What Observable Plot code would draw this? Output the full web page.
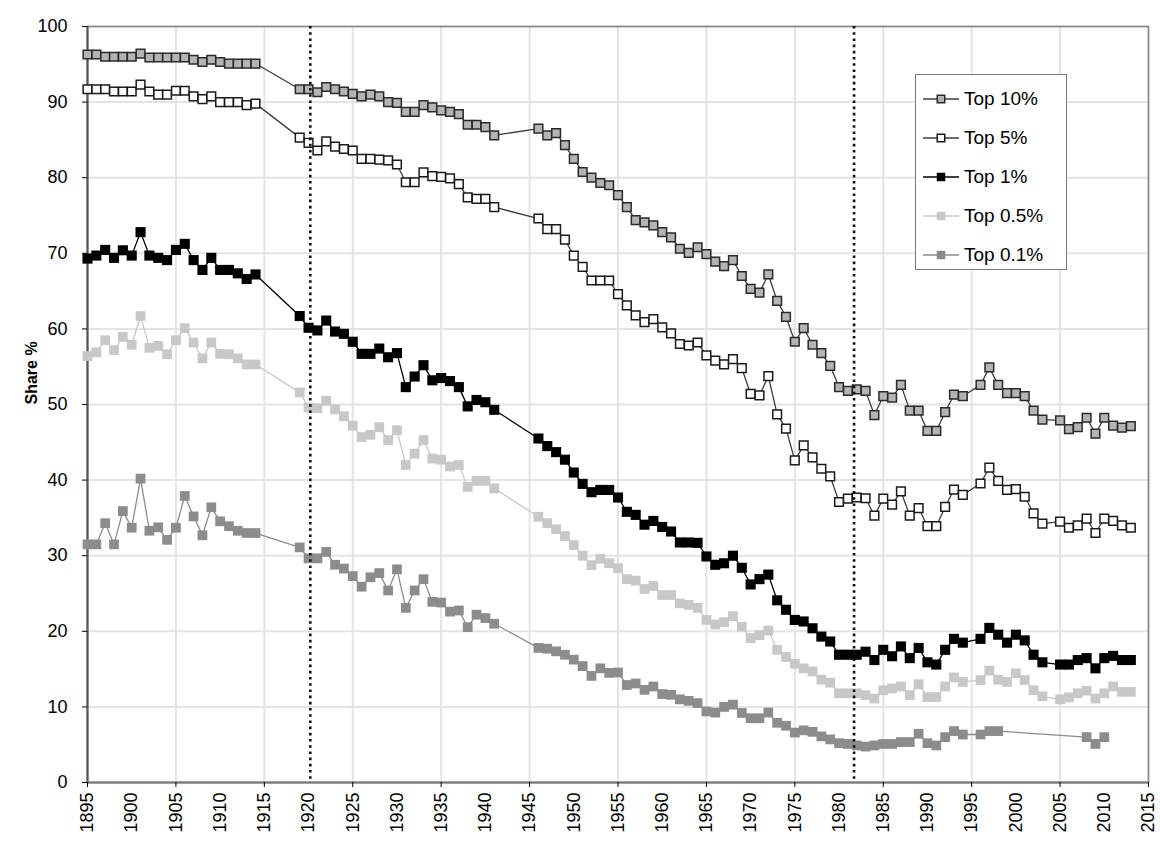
<!DOCTYPE html>
<html><head><meta charset="utf-8">
<script src="https://cdn.jsdelivr.net/npm/d3@7"></script>
<script src="https://cdn.jsdelivr.net/npm/@observablehq/plot@0.6"></script>
<style>
html,body{margin:0;padding:0;background:#fff;}
#wrap{position:relative;width:1160px;height:846px;font-family:"Liberation Sans",Arial,sans-serif;}
#legend{position:absolute;left:915px;top:74px;width:152px;height:196px;border:1.5px solid #7a7a7a;background:#fff;box-sizing:border-box;}
.row{position:absolute;left:6px;height:26px;display:flex;align-items:center;}
.row span{font-size:19px;color:#000;margin-left:4px;white-space:nowrap;}
</style></head><body><div id="wrap"><div id="chart"></div><div id="legend"></div></div>
<script>
// ---- data ----
const years = [
  1895,1896,1897,1898,1899,1900,1901,1902,1903,1904,1905,1906,1907,1908,1909,1910,1911,1912,1913,1914,
  1919,1920,1921,1922,1923,1924,1925,1926,1927,1928,1929,1930,1931,1932,1933,1934,1935,1936,1937,1938,1939,1940,1941,
  1946,1947,1948,1949,1950,1951,1952,1953,1954,1955,1956,1957,1958,1959,1960,1961,1962,1963,1964,1965,
  1966,1967,1968,1969,1970,1971,1972,1973,1974,1975,1976,1977,1978,1979,1980,1981,1982,1983,1984,1985,
  1986,1987,1988,1989,1990,1991,1992,1993,1994,
  1996,1997,1998,1999,2000,2001,2002,2003,
  2005,2006,2007,2008,2009,2010,2011,2012,2013
];
const years01 = [
  1895,1896,1897,1898,1899,1900,1901,1902,1903,1904,1905,1906,1907,1908,1909,1910,1911,1912,1913,1914,
  1919,1920,1921,1922,1923,1924,1925,1926,1927,1928,1929,1930,1931,1932,1933,1934,1935,1936,1937,1938,1939,1940,1941,
  1946,1947,1948,1949,1950,1951,1952,1953,1954,1955,1956,1957,1958,1959,1960,1961,1962,1963,1964,1965,
  1966,1967,1968,1969,1970,1971,1972,1973,1974,1975,1976,1977,1978,1979,1980,1981,1982,1983,1984,1985,
  1986,1987,1988,1989,1990,1991,1992,1993,1994,
  1996,1997,1998,
  2008,2009,2010
];
const top10 = [
  96.3,96.3,96.0,96.0,96.0,96.0,96.4,95.9,95.9,95.9,95.9,95.9,95.6,95.3,95.6,95.3,95.1,95.1,95.1,95.1,
  91.7,91.7,91.3,92.0,91.7,91.4,91.1,90.75,91.0,90.75,90.0,89.9,88.7,88.7,89.6,89.3,88.9,88.7,88.4,87.0,87.0,86.7,85.6,
  86.5,85.6,85.9,84.3,82.5,80.75,80.0,79.3,79.0,77.7,76.1,74.4,74.1,73.7,72.8,72.1,70.6,70.05,70.8,69.9,
  68.9,68.3,69.1,67.0,65.3,64.8,67.2,63.7,61.6,58.3,60.1,57.9,56.8,55.1,52.3,51.8,52.0,51.8,48.6,51.1,
  50.9,52.6,49.2,49.2,46.5,46.5,49.0,51.3,51.1,
  52.6,54.9,52.6,51.5,51.5,51.1,49.2,48.0,
  47.9,46.75,47.0,48.25,46.15,48.25,47.2,46.95,47.15
];
const top5 = [
  91.7,91.7,91.7,91.4,91.4,91.4,92.3,91.4,91.0,91.0,91.5,91.5,90.75,90.4,90.75,90.0,90.0,90.0,89.6,89.8,
  85.3,84.6,83.6,84.8,84.1,83.8,83.6,82.5,82.5,82.4,82.3,81.75,79.4,79.4,80.7,80.2,80.1,79.9,79.15,77.4,77.2,77.2,76.1,
  74.6,73.2,73.2,71.8,69.7,68.2,66.4,66.4,66.4,64.6,63.1,61.8,60.9,61.3,60.2,59.4,58.0,57.8,58.2,56.5,
  55.8,55.3,56.0,54.8,51.4,51.2,53.75,48.7,46.8,42.6,44.6,43.0,41.5,40.5,37.1,37.55,37.7,37.6,35.3,37.55,
  36.75,38.5,35.3,36.3,33.9,33.9,36.45,38.75,38.05,
  39.55,41.65,39.9,38.7,38.8,37.8,35.6,34.25,
  34.5,33.7,34.0,34.9,33.0,34.9,34.6,34.0,33.7
];
const top1 = [
  69.3,69.7,70.45,69.4,70.4,69.7,72.8,69.7,69.4,69.1,70.45,71.25,69.1,67.8,69.4,67.8,67.8,67.35,66.6,67.2,
  61.7,60.15,59.8,61.1,59.65,59.35,58.3,56.7,56.7,57.4,56.25,56.8,52.3,53.7,55.2,53.2,53.5,53.1,52.3,49.75,50.6,50.3,49.3,
  45.5,44.5,43.7,42.7,41.0,39.5,38.4,38.7,38.7,37.7,35.8,35.4,34.1,34.6,33.8,33.2,31.75,31.75,31.7,29.9,
  28.8,29.0,30.0,28.4,26.2,26.9,27.5,24.1,22.85,21.5,21.3,20.4,19.3,18.65,16.9,16.9,16.9,17.3,16.2,17.55,
  16.7,18.0,16.45,17.8,15.9,15.6,17.55,19.0,18.5,
  19.0,20.45,19.55,18.5,19.55,18.8,16.9,15.9,
  15.6,15.6,16.2,16.45,15.1,16.45,16.75,16.2,16.2
];
const top05 = [
  56.4,56.9,58.5,57.2,58.95,57.9,61.7,57.5,57.75,56.65,58.5,60.1,58.2,56.1,58.2,56.7,56.65,56.1,55.3,55.3,
  51.6,49.6,49.5,50.5,49.35,48.45,47.2,45.7,46.0,47.0,45.3,46.6,42.0,43.5,45.3,42.85,42.7,41.8,42.0,39.1,39.9,39.9,38.9,
  35.15,34.3,33.5,32.6,31.4,30.0,28.75,29.6,29.0,28.35,26.9,26.7,25.6,26.0,24.8,24.8,23.7,23.5,23.1,21.5,
  20.9,21.2,22.0,20.6,19.1,19.5,20.1,17.55,16.6,15.7,15.1,14.7,13.6,13.2,11.8,11.8,11.8,11.55,11.1,12.2,
  12.45,12.7,11.55,13.0,11.3,11.3,12.7,13.9,13.3,
  13.55,14.8,13.6,13.3,14.45,13.55,12.2,11.4,
  11.0,11.25,11.8,12.15,11.1,11.8,12.7,12.0,12.0
];
const top01 = [
  31.5,31.5,34.3,31.5,35.9,33.7,40.2,33.3,33.75,32.1,33.7,37.9,35.2,32.7,36.4,34.55,33.9,33.3,33.0,33.0,
  31.1,29.65,29.65,30.5,28.8,28.3,27.3,25.9,27.15,27.7,25.4,28.2,23.1,25.4,26.9,23.9,23.8,22.6,22.75,20.55,22.2,21.75,21.0,
  17.8,17.7,17.35,16.9,16.25,15.4,14.1,15.1,14.5,14.55,12.9,13.1,12.25,12.7,11.7,11.6,11.0,10.8,10.5,9.4,
  9.25,10.0,10.3,9.2,8.5,8.5,9.25,7.9,7.5,6.6,6.9,6.7,6.1,5.7,5.2,5.1,4.9,4.75,4.9,5.1,
  5.1,5.35,5.35,6.45,5.2,4.9,6.0,6.8,6.35,
  6.35,6.8,6.8,
  6.0,5.1,6.0
];
const seriesNames = ["Top 10%", "Top 5%", "Top 1%", "Top 0.5%", "Top 0.1%"];
const yTicks = [0,10,20,30,40,50,60,70,80,90,100];
const xLabelTicks = [1895,1900,1905,1910,1915,1920,1925,1930,1935,1940,1945,1950,1955,1960,1965,1970,1975,1980,1985,1990,1995,2000,2005,2010,2015];
const xGridTicks = [1905,1915,1925,1935,1945,1955,1965,1975,1985,1995,2005];
const xMarkTicks = [1895,1905,1915,1925,1935,1945,1955,1965,1975,1985,1995,2005,2015];
const breakYears = [1920.2, 1981.7];

// ---- styles ----
const styles = [
  {line: "#3c3c3c", fill: "#b4b4b4", stroke: "#2a2a2a", r: 4.9, sw: 1.5},
  {line: "#3c3c3c", fill: "#ffffff", stroke: "#1a1a1a", r: 4.9, sw: 1.5},
  {line: "#000000", fill: "#000000", stroke: "none",    r: 5.7, sw: 0},
  {line: "#c8c8c8", fill: "#c8c8c8", stroke: "none",    r: 5.5, sw: 0},
  {line: "#8c8c8c", fill: "#8c8c8c", stroke: "none",    r: 5.5, sw: 0}
];
const seriesValues = [top10, top5, top1, top05, top01];
const seriesYears = [years, years, years, years, years01];
const tables = seriesValues.map((vals, k) =>
  vals.map((v, i) => ({year: seriesYears[k][i], value: v, series: seriesNames[k]})));

const marks = [
  Plot.ruleX(xGridTicks, {stroke: "#e4e4e4", strokeWidth: 2}),
  Plot.ruleY(yTicks.filter(d => d > 0 && d < 100), {stroke: "#e4e4e4", strokeWidth: 2}),
  Plot.frame({stroke: "#8a8a8a", strokeWidth: 1.8}),
  Plot.ruleX([1895], {stroke: "#555", strokeWidth: 2}),
  Plot.ruleY([0], {stroke: "#777", strokeWidth: 2}),
  Plot.axisY({ticks: yTicks, tickSize: 5, tickPadding: 15, label: null, fontSize: 18}),
  Plot.axisX({ticks: xMarkTicks, tickSize: 5, tickFormat: () => "", label: null}),
  Plot.axisX({ticks: xLabelTicks, tickSize: 0, tickPadding: 10, tickRotate: -90, tickFormat: d => String(d), label: null, fontSize: 18}),
  Plot.text(["Share %"], {frameAnchor: "left", dx: -56, rotate: -90, fontWeight: "bold", fontSize: 16})
];
tables.forEach((t, k) => {
  const s = styles[k];
  marks.push(Plot.line(t, {x: "year", y: "value", stroke: s.line, strokeWidth: 1.3}));
  marks.push(Plot.dot(t, {x: "year", y: "value", symbol: "square", r: s.r, fill: s.fill, stroke: s.stroke, strokeWidth: s.sw}));
});
marks.push(Plot.ruleX(breakYears, {stroke: "#111", strokeWidth: 2.6, strokeDasharray: "2.6,3.6"}));

const chart = Plot.plot({
  width: 1160, height: 846,
  marginLeft: 87, marginRight: 12, marginTop: 26, marginBottom: 64,
  x: {domain: [1895, 2015]},
  y: {domain: [0, 100]},
  style: {fontFamily: "'Liberation Sans', Arial, sans-serif", fontSize: "18px", color: "#000", background: "#fff"},
  marks
});
document.getElementById("chart").appendChild(chart);

// ---- legend ----
const legend = d3.select("#legend");
seriesNames.forEach((name, k) => {
  const s = styles[k];
  const row = legend.append("div").attr("class", "row").style("top", (11 + k * 39) + "px");
  const svg = row.append("svg").attr("width", 38).attr("height", 20);
  svg.append("line").attr("x1", 1).attr("x2", 37).attr("y1", 10).attr("y2", 10)
    .attr("stroke", s.line).attr("stroke-width", 1.5);
  const side = s.sw ? 7.5 : 8.5;
  svg.append("rect").attr("x", 19 - side / 2).attr("y", 10 - side / 2).attr("width", side).attr("height", side)
    .attr("fill", s.fill).attr("stroke", s.stroke).attr("stroke-width", s.sw);
  row.append("span").text(name);
});
</script></body></html>
